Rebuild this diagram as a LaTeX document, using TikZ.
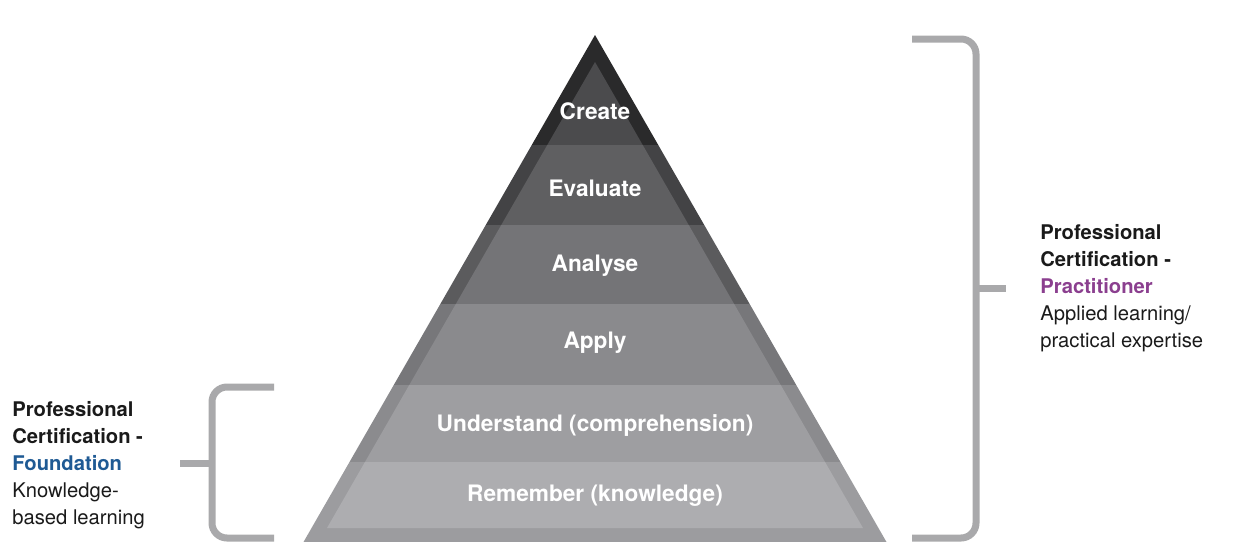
\documentclass[tikz,border=0pt]{standalone}
\usepackage{fontspec}
\setmainfont{TeX Gyre Heros}
\usetikzlibrary{positioning}
\definecolor{outcreate}{HTML}{2A2A2B}
\definecolor{increate}{HTML}{4B4B4D}
\definecolor{outeval}{HTML}{434345}
\definecolor{ineval}{HTML}{5F5F61}
\definecolor{outanal}{HTML}{5B5B5D}
\definecolor{inanal}{HTML}{747477}
\definecolor{outapply}{HTML}{77777A}
\definecolor{inapply}{HTML}{8A8A8D}
\definecolor{outund}{HTML}{8B8B8E}
\definecolor{inund}{HTML}{9E9EA1}
\definecolor{outrem}{HTML}{9C9C9F}
\definecolor{inrem}{HTML}{ADADB0}
\definecolor{bracketgray}{HTML}{A9A9AB}
\definecolor{foundblue}{HTML}{1F5A94}
\definecolor{practpurple}{HTML}{8B3F8F}
\definecolor{labelblack}{HTML}{1A1A1A}
\begin{document}
\begin{tikzpicture}[x=0.02cm, y=-0.02cm,
    level/.style={text=white, font=\fontsize{12.9}{15}\selectfont\bfseries},
    side/.style={align=left, anchor=north west, inner sep=0pt, text=labelblack,
      font=\fontsize{11.5}{15.4}\selectfont},
    bracket/.style={draw=bracketgray, line width=0.14cm, rounded corners=0.3cm}]
    \useasboundingbox (0,0) rectangle (1254,555);
    % outer frame of the pyramid
    \begin{scope}
      \clip (595,35) -- (886.5,542) -- (303.5,542) -- cycle;
      \foreach \ytop/\ybot/\lvl in {35/145/create, 145/225/eval, 225/304/anal, 304/385/apply, 385/462/und, 462/542/rem}
        \fill[out\lvl] (300,\ytop) rectangle (890,\ybot);
    \end{scope}
    % lighter inner part
    \begin{scope}
      \clip (595,62) -- (863,528) -- (327,528) -- cycle;
      \foreach \ytop/\ybot/\lvl in {35/145/create, 145/225/eval, 225/304/anal, 304/385/apply, 385/462/und, 462/542/rem}
        \fill[in\lvl] (300,\ytop) rectangle (890,\ybot);
    \end{scope}
    \node [level] (create) at (595,111) {Create};
    \node [level] (evaluate) at (595,188) {Evaluate};
    \node [level] (analyse) at (595,266) {Analyse};
    \node [level] (apply) at (595,343) {Apply};
    \node [level] (understand) at (595,426) {Understand (comprehension)};
    \node [level] (remember) at (595,496) {Remember (knowledge)};
    % brackets
    \draw [bracket] (912,39) -- (976,39) -- (976,538) -- (912,538);
    \draw [bracket, rounded corners=0] (976,288) -- (1006,288);
    \draw [bracket] (274,387) -- (212,387) -- (212,538) -- (274,538);
    \draw [bracket, rounded corners=0] (180,463) -- (212,463);
    \node [side] (foundation) at (12,401) {\bfseries Professional\\ \bfseries Certification -\\
      \bfseries\color{foundblue}Foundation\\ Knowledge-\\ based learning};
    \node [side] (practitioner) at (1040,224) {\bfseries Professional\\ \bfseries Certification -\\
      \bfseries\color{practpurple}Practitioner\\ Applied learning/\\ practical expertise};
\end{tikzpicture}
\end{document}
